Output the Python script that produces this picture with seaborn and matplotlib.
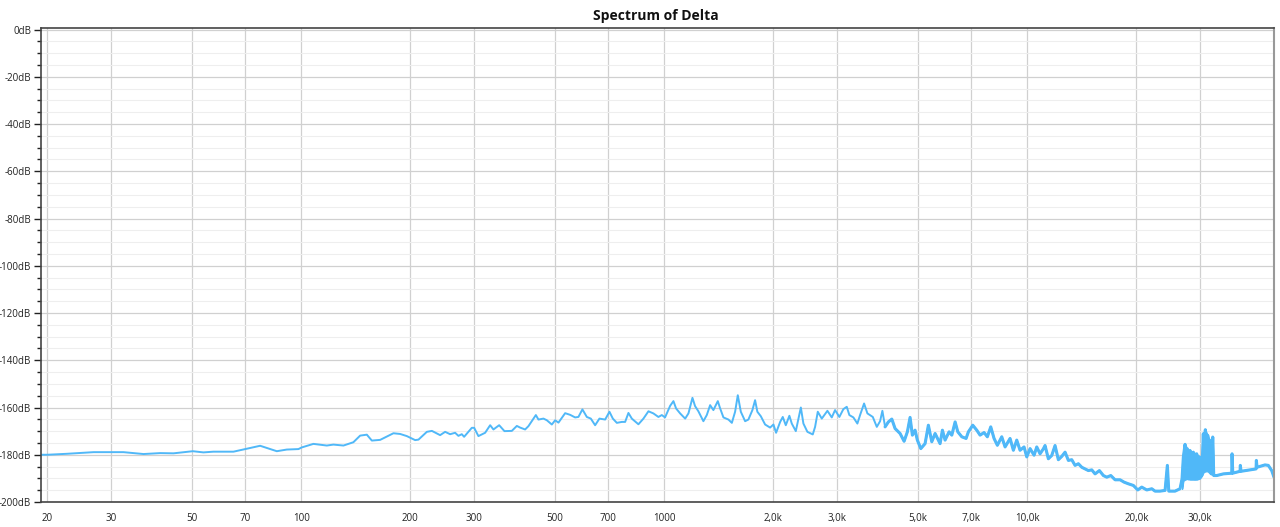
import numpy as np
import pandas as pd
import matplotlib
matplotlib.use('Agg')
import matplotlib.pyplot as plt
import matplotlib.ticker as mticker
import seaborn as sns

# Spectrum, split into bands (Hz, dB)
freq_low = [19.2, 20, 22.6, 26.8, 30, 32.4, 36.8, 40.9, 44.5, 50.3, 53.8, 57.3, 65.1,
            70.2, 77.1, 85.7, 91.3, 98.3, 100.4, 108.1, 117.7, 122.7, 130.8, 139.3,
            145.4, 151.7, 156.6, 165.1, 179.6, 187.4, 195.5, 206.1, 210.5, 222.0,
            229.2, 233.9, 241.5, 249.3, 257.3, 265.6, 271.2, 277.1, 281.2, 295.3,
            299.7, 307.9, 321.3, 331.7, 338.7, 351.2, 363.2, 380.6, 392.9]
db_low = [-180, -180, -179.6, -178.9, -178.9, -178.9, -179.7, -179.3, -179.4, -178.5,
          -179, -178.7, -178.7, -177.6, -176.2, -178.5, -177.8, -177.6, -176.9, -175.4,
          -176.1, -175.7, -176.1, -174.7, -171.9, -171.5, -174, -173.7, -170.9, -171.2,
          -172.1, -173.8, -173.6, -170.3, -169.9, -170.6, -171.7, -170.3, -171.3,
          -170.7, -172, -171.3, -172.4, -168.6, -168.6, -172.1, -170.7, -167.5,
          -169.3, -167.5, -170, -169.9, -167.8]

freq_mid = [401.2, 414.1, 422.9, 433.8, 443.3, 450.6, 465.2, 475.3, 490.6, 501, 511.6,
            533.8, 550.8, 568.7, 580.7, 595.6, 612.5, 628.2, 645.6, 663.5, 688, 707,
            722.4, 741, 764.9, 781, 797.5, 814.8, 849.7, 877.1, 905.4, 934.3, 964.5,
            985.6, 1006, 1039, 1061, 1079, 1107, 1143, 1167, 1197, 1217, 1243, 1283,
            1311, 1339, 1367, 1406, 1427, 1457, 1504, 1537, 1569, 1596, 1627, 1672,
            1707, 1751, 1781, 1807, 1847, 1898, 1959, 2001, 2035, 2088, 2123, 2164,
            2214, 2248, 2306, 2381, 2420, 2482, 2568, 2606, 2651, 2719, 2818, 2897,
            2958, 3040, 3118, 3186, 3239, 3323, 3408, 3467, 3556, 3632, 3758, 3855,
            3936, 3994]
db_mid = [-168.5, -169.3, -167.9, -165.4, -163.2, -165.1, -164.7, -165.4, -167.2,
          -165.4, -166.4, -162.4, -163.1, -164.2, -164, -160.8, -164, -164.7, -167.5,
          -164.7, -165.1, -161.8, -164.7, -166.5, -166.1, -166.1, -162.3, -164.7,
          -167.1, -164.7, -161.6, -162.5, -164, -163.2, -164.2, -159.3, -157.3,
          -160.4, -162.5, -164.7, -162.5, -155.9, -159.4, -161.6, -165.8, -163.2,
          -159, -161.1, -157.3, -160.4, -164.2, -165.1, -166.5, -161.8, -154.8,
          -161.8, -165.8, -165.1, -161.1, -156.9, -161.8, -163.7, -167.2, -168.5,
          -167.2, -170.7, -166.1, -164, -167.5, -163.5, -166.8, -170, -160, -166.8,
          -170.3, -171.4, -168.2, -161.8, -164.7, -161.4, -164.2, -161.1, -164,
          -160.7, -159.7, -163.2, -164.2, -166.8, -163.2, -158.3, -162.5, -164,
          -168.2, -165.8, -161.4]

freq_high = [4063, 4149, 4240, 4329, 4468, 4584, 4680, 4761, 4831, 4914, 4986, 5096,
             5236, 5347, 5464, 5580, 5759, 5845, 5945, 6098, 6204, 6336, 6444, 6610,
             6792, 6892, 7087, 7268, 7422, 7612, 7773, 7943, 8111, 8283, 8517, 8698,
             8978, 9168, 9367, 9565, 9811, 9981, 10193, 10455, 10634, 10859, 11089,
             11209, 11446, 11695, 11943, 12196, 12463, 12727, 12997, 13279, 13560,
             13847, 14150, 14450, 14756, 15076, 15395, 15822, 16228, 16583, 17008,
             17477, 18041, 18505, 19018, 19632]
db_high = [-168.2, -166.1, -164.9, -168.9, -171, -174.3, -170.3, -164.2, -171.7,
           -169.6, -173.8, -177.4, -175.3, -167.5, -174.5, -171, -175.3, -169.6,
           -173.8, -170.3, -171.7, -166.1, -170.3, -172.4, -173.1, -170.3, -167.5,
           -169.6, -171.7, -170.6, -172.4, -168.2, -173.1, -176, -172.4, -176.7,
           -173.1, -178.1, -173.8, -178.1, -176.7, -180.9, -177.4, -180.2, -176.7,
           -179.6, -177.5, -176.1, -181.7, -180.3, -176.1, -182.1, -180.7, -178.9,
           -182.4, -182.1, -184.5, -183.8, -185.3, -186, -186.7, -186.4, -188.1,
           -186.7, -188.8, -189.5, -188.8, -190.6, -190.6, -191.6, -192.3, -193]

freq_ultra = [20184, 20701, 21370, 22057, 22524, 23251, 24001, 24352, 24571, 25565,
              26390, 26730, 26950, 27245, 27416, 27644, 27893, 28119, 28424, 28714,
              29025, 29340, 29639, 29961, 30287, 30595, 30786, 30985, 31258, 31459,
              31721, 31920, 32186, 32476, 32679, 33310, 34735, 36640, 36707, 36875,
              38620, 38690, 38860, 41150, 42750, 42830, 43010, 45240, 46200, 47210,
              47900]
db_ultra = [-194.9, -193.7, -194.9, -194.4, -195.4, -195.4, -195.1, -184.5, -195.4,
            -195.4, -194.4, -190.2, -181, -175.6, -185.3, -177.5, -190.2, -178.2,
            -189.5, -178.9, -190.2, -179.6, -189.5, -181, -188.8, -171.1, -186.7,
            -169.4, -185.3, -171.8, -186.7, -174, -188.1, -172.5, -188.8, -188.8,
            -188.1, -187.8, -179.6, -187.8, -187, -184.5, -187, -186.4, -186, -182.4,
            -185.3, -184.3, -184.5, -186.7, -189.5]

# dense burst around 27-33 kHz, drawn as an envelope
burst_freq = [26730, 26950, 27245, 27644, 28119, 28714, 29340, 29961, 30287, 30595,
              30985, 31459, 31920, 32476, 32679]
burst_top = [-190.2, -181, -175.6, -177.5, -178.2, -178.9, -179.6, -181, -181, -171.1,
             -169.4, -171.8, -174, -172.5, -188.8]
burst_bottom = [-194.4, -191, -190.5, -190.2, -190.5, -190.5, -190.5, -190, -189,
                -187.5, -187, -187, -188, -188.5, -188.8]

x_ticks = [20, 30, 50, 70, 100, 200, 300, 500, 700, 1000, 2000, 3000, 5000, 7000,
           10000, 20000, 30000]
x_labels = ['20', '30', '50', '70', '100', '200', '300', '500', '700', '1000',
            '2,0k', '3,0k', '5,0k', '7,0k', '10,0k', '20,0k', '30,0k']
y_ticks = list(range(0, -201, -20))

line_color = '#50b8f8'

df = pd.DataFrame({
    'freq': freq_low + freq_mid + freq_high + freq_ultra,
    'db': db_low + db_mid + db_high + db_ultra,
})
df_noisy = pd.DataFrame({'freq': freq_high + freq_ultra, 'db': db_high + db_ultra})

sns.set_style('white')
plt.rcParams['font.family'] = ['Open Sans', 'DejaVu Sans']

fig = plt.figure(figsize=(12.8, 5.27), dpi=100)
ax = fig.add_axes([41 / 1280, 1 - 502 / 527, (1274 - 41) / 1280, (502 - 27.5) / 527])

sns.lineplot(data=df, x='freq', y='db', ax=ax, color=line_color, linewidth=1.4,
             sort=False, estimator=None)
# the high band is noisier in the reference, so its trace reads thicker
sns.lineplot(data=df_noisy, x='freq', y='db', ax=ax, color=line_color, linewidth=2.2,
             sort=False, estimator=None)
ax.fill_between(burst_freq, burst_bottom, burst_top, color=line_color, linewidth=1.0,
                edgecolor=line_color)

ax.set_xscale('log')
ax.set_xlim(19.2, 47900)
ax.set_ylim(-200, 0.85)

ax.xaxis.set_major_locator(mticker.FixedLocator(x_ticks))
ax.xaxis.set_major_formatter(mticker.FixedFormatter(x_labels))
ax.xaxis.set_minor_locator(mticker.NullLocator())
ax.set_yticks(y_ticks)
ax.set_yticklabels([f'{v}dB' for v in y_ticks])
ax.yaxis.set_minor_locator(mticker.MultipleLocator(5))

ax.grid(True, which='major', color='#d0d0d0', linewidth=0.9)
ax.grid(True, which='minor', axis='y', color='#eeeeee', linewidth=0.8)
ax.set_axisbelow(True)

ax.tick_params(axis='x', length=0, pad=8, labelsize=7, colors='#222222')
ax.tick_params(axis='y', which='major', length=5, width=1, labelsize=7,
               colors='#222222', left=True, pad=2)
ax.tick_params(axis='y', which='minor', length=3, width=1, left=True, color='#222222')

for side in ['left', 'bottom', 'top']:
    ax.spines[side].set_color('#444444')
    ax.spines[side].set_linewidth(1.2)
ax.spines['right'].set_color('#999999')
ax.spines['right'].set_linewidth(1.5)

ax.set_xlabel('')
ax.set_ylabel('')
fig.text(656 / 1280, 1 - 16 / 527, 'Spectrum of Delta', ha='center', va='center',
         fontsize=10, fontweight='bold', color='#111111')

fig.savefig('out.png', dpi=100)
